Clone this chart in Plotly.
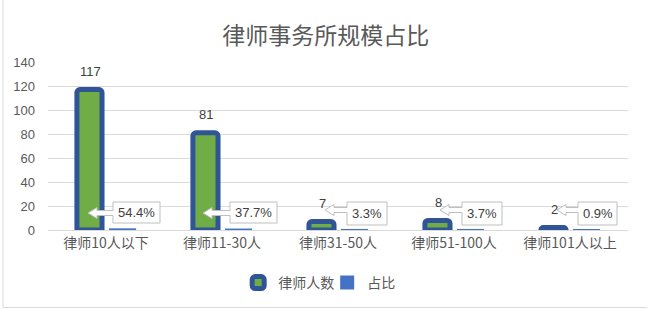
import plotly.graph_objects as go

categories = ["律师10人以下", "律师11-30人", "律师31-50人", "律师51-100人", "律师101人以上"]
lawyer_counts = [117, 81, 7, 8, 2]
shares = [0.544, 0.377, 0.033, 0.037, 0.009]
share_labels = ["54.4%", "37.7%", "3.3%", "3.7%", "0.9%"]
y_ticks = [0, 20, 40, 60, 80, 100, 120, 140]

W, H = 657, 309
ML, MR, MT, MB = 48, 29, 62, 79
PW, PH = W - ML - MR, H - MT - MB

TXT = "#595959"
FONT = "Liberation Sans, Noto Sans CJK SC, sans-serif"
CJK = "Noto Sans CJK SC, sans-serif"

fig = go.Figure()
fig.add_trace(go.Bar(
    x=categories, y=lawyer_counts, name="律师人数",
    marker=dict(color="#70AD47", line=dict(color="#2F5597", width=5), cornerradius=3),
))
fig.add_trace(go.Bar(
    x=categories, y=shares, name="占比",
    marker=dict(color="#4472C4", line=dict(color="#4472C4", width=2)),
))

annotations = []
shapes = []
# callout geometry (pixels relative to category center at y=0): box L,R,B,T, arrow tip, arrow mid
callouts = [
    (7, 54, 7, 28, -18, 17),
    (8, 55, 7, 28, -19, 17),
    (9, 49, 5, 28, -13, 20),
    (8, 48, 5, 28, -14, 20),
    (8, 47, 5, 28, -13, 20),
]
for i, (cat, v) in enumerate(zip(categories, lawyer_counts)):
    annotations.append(dict(x=cat, y=v, xref="x", yref="y", text=str(v), showarrow=False,
                            xshift=-16, yshift=18, yanchor="middle",
                            font=dict(family=FONT, size=13, color="#404040")))
for i, (cat, lab) in enumerate(zip(categories, share_labels)):
    L, R, B, T, tip, M = callouts[i]
    hb = tip + 9
    path = (f"M{L},{T} L{R},{T} L{R},{B} L{L},{B} L{L},{M-2.5} L{hb},{M-2.5} L{hb},{M-5.5} "
            f"L{tip},{M} L{hb},{M+5.5} L{hb},{M+2.5} L{L},{M+2.5} Z")
    shapes.append(dict(type="path", xref="x", yref="y", xsizemode="pixel", ysizemode="pixel",
                       xanchor=i, yanchor=0, path=path, fillcolor="white",
                       line=dict(color="#BFBFBF", width=1), layer="above"))
    annotations.append(dict(x=cat, y=0, xref="x", yref="y", text=lab, showarrow=False,
                            xshift=(L + R) / 2, yshift=(B + T) / 2, yanchor="middle", xanchor="center",
                            font=dict(family=FONT, size=13, color="#404040")))

# chart-area border (left and bottom)
def px_x(p):
    return (p - ML) / PW

def px_y(p):
    return (H - MB - p) / PH

shapes.append(dict(type="line", xref="paper", yref="paper", x0=px_x(3), x1=px_x(3),
                   y0=px_y(0), y1=px_y(307.5), line=dict(color="#D9D9D9", width=1)))
shapes.append(dict(type="line", xref="paper", yref="paper", x0=px_x(3), x1=px_x(647),
                   y0=px_y(307.5), y1=px_y(307.5), line=dict(color="#D9D9D9", width=1)))

fig.update_layout(
    width=W, height=H,
    margin=dict(l=ML, r=MR, t=MT, b=MB, pad=0),
    paper_bgcolor="white", plot_bgcolor="white",
    title=dict(text="律师事务所规模占比", x=0.496, xref="container", xanchor="center",
               y=1 - 36 / H, yref="container", yanchor="middle",
               font=dict(family=CJK, size=23, color=TXT)),
    barmode="group", bargap=0.43, bargroupgap=0.24,
    showlegend=True,
    legend=dict(orientation="h", xref="container", x=0.498, xanchor="center",
                yref="container", y=1 - 283 / H, yanchor="middle",
                font=dict(family=CJK, size=14, color=TXT), itemwidth=30,
                entrywidth=44, entrywidthmode="pixels",
                traceorder="normal"),
    xaxis=dict(type="category", showgrid=False, showline=True, linecolor="#D9D9D9",
               ticks="", tickfont=dict(family=CJK, size=14, color=TXT)),
    yaxis=dict(range=[0, 140], tickvals=y_ticks, showgrid=True, gridcolor="#D9D9D9",
               zeroline=False, showline=False, ticks="", ticklabelstandoff=12,
               tickfont=dict(family=FONT, size=13, color=TXT)),
    annotations=annotations, shapes=shapes,
)

fig.write_html("out.html")
